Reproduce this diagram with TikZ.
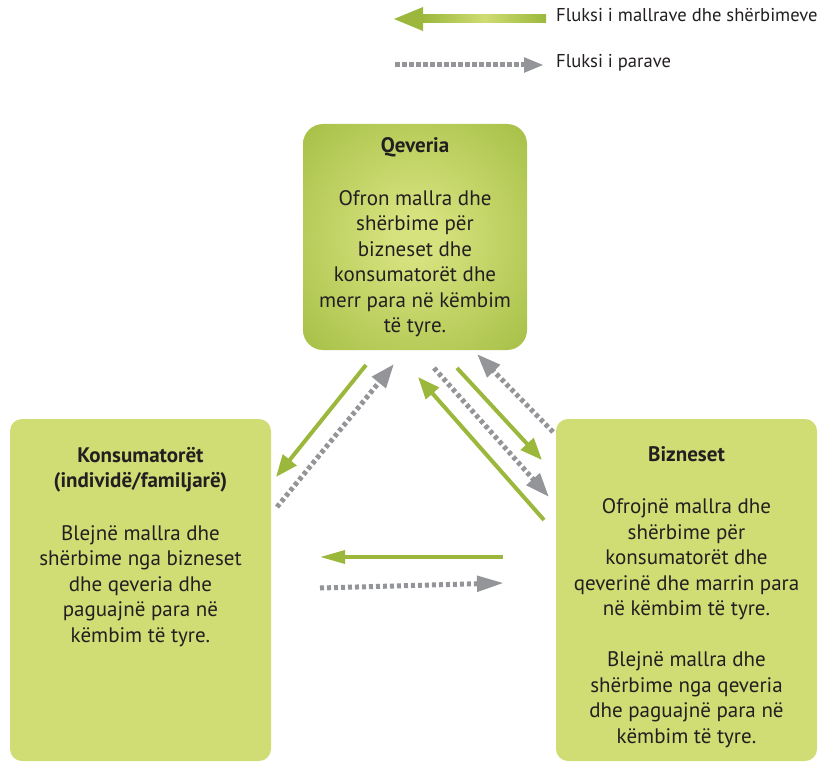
\documentclass[tikz,border=0pt]{standalone}
\usepackage{fontspec}
\setmainfont{PT Sans}
\usetikzlibrary{arrows.meta}
\definecolor{boxgreen}{HTML}{D0DC74}
\definecolor{qdark}{HTML}{9CB83A}
\definecolor{qlight}{HTML}{D6E27E}
\definecolor{arrgreen}{HTML}{9BB83C}
\definecolor{arrgreenlight}{HTML}{CFDC72}
\definecolor{arrgray}{HTML}{939598}
\definecolor{txt}{HTML}{231F20}
\pgfdeclareradialshading{qevshade}{\pgfpoint{0bp}{0bp}}{color(0bp)=(qlight); color(5bp)=(qlight); color(42bp)=(qdark); color(75bp)=(qdark)}
\newcommand{\diagfont}{\fontsize{21}{25.5}\selectfont}
\tikzset{
  sidebox/.style={fill=boxgreen, rounded corners=12pt, minimum width=261pt, minimum height=342pt, inner sep=0pt},
  qbox/.style={shade, shading=qevshade, rounded corners=20pt, minimum width=224pt, minimum height=226pt, inner sep=0pt},
  boxtext/.style={anchor=north, align=center, font=\diagfont, text=txt, inner sep=0pt},
  goods/.style={draw=arrgreen, line width=4pt, -{Triangle[length=22pt,width=17pt]}},
  money/.style={draw=arrgray, line width=5pt, dash pattern=on 4pt off 3pt, -{Triangle[length=24pt,width=17pt]}},
  goodsh/.style={draw=arrgreen, line width=3.5pt, -{Triangle[length=25pt,width=13pt]}},
  moneyh/.style={draw=arrgray, line width=5pt, dash pattern=on 4pt off 3pt, -{Triangle[length=27pt,width=15pt]}},
  legtext/.style={anchor=base west, font=\fontsize{18.6}{21}\selectfont, text=txt, inner sep=0pt}
}
\begin{document}
\begin{tikzpicture}[x=1pt,y=-1pt]
\useasboundingbox (0,0) rectangle (825,762);

% legend
\coordinate (lg1) at (394,19);
\coordinate (lg2) at (423,19);
\coordinate (lg3) at (546,19);
\shade[left color=arrgreen, right color=arrgreen, middle color=arrgreenlight] (lg2) ++(0,-4) rectangle ([yshift=-4pt]lg3);
\fill[arrgreen] (lg1) -- ([yshift=-12pt]lg2) -- ([yshift=12pt]lg2) -- cycle;
\node[legtext] (leg1) at (556,22) {Fluksi i mallrave dhe shërbimeve};
\coordinate (lm1) at (395,65);
\coordinate (lm2) at (544,65);
\draw[draw=arrgray, line width=5pt, dash pattern=on 5pt off 2pt, -{Triangle[length=20pt,width=14pt]}] (lm1) -- (lm2);
\node[legtext] (leg2) at (556,68) {Fluksi i parave};

% boxes
\node[qbox] (qev) at (415,237) {};
\node[sidebox] (kon) at (140.5,590) {};
\node[sidebox] (biz) at (686.5,590) {};

\node[boxtext] (qevt) at (415,137.5) {\textbf{Qeveria}\\[27pt]Ofron mallra dhe\\shërbime për\\bizneset dhe\\konsumatorët dhe\\merr para në këmbim\\të tyre.};
\node[boxtext] (kont) at (140.5,447) {\textbf{Konsumatorët}\\\textbf{(individë/familjarë)}\\[27pt]Blejnë mallra dhe\\shërbime nga bizneset\\dhe qeveria dhe\\paguajnë para në\\këmbim të tyre.};
\node[boxtext] (bizt) at (686.5,446) {\textbf{Bizneset}\\[27pt]Ofrojnë mallra dhe\\shërbime për\\konsumatorët dhe\\qeverinë dhe marrin para\\në këmbim të tyre.\\[25.5pt]Blejnë mallra dhe\\shërbime nga qeveria\\dhe paguajnë para në\\këmbim të tyre.};

% arrow end points
\coordinate (a1s) at (366,365);
\coordinate (a1e) at (276,477);
\coordinate (a2s) at (277,507);
\coordinate (a2e) at (394,364);
\coordinate (a3s) at (544,520);
\coordinate (a3e) at (418,377);
\coordinate (a4s) at (434,368);
\coordinate (a4e) at (549,497);
\coordinate (a5s) at (457,368);
\coordinate (a5e) at (542,460);
\coordinate (a6s) at (553,432);
\coordinate (a6e) at (477,354);
\coordinate (a7s) at (503,557);
\coordinate (a7e) at (320,557);
\coordinate (a8s) at (320,588);
\coordinate (a8e) at (504,583);

\draw[goods] (a1s) -- (a1e);
\draw[money] (a2s) -- (a2e);
\draw[goods] (a3s) -- (a3e);
\draw[money] (a4s) -- (a4e);
\draw[goods] (a5s) -- (a5e);
\draw[money] (a6s) -- (a6e);
\draw[goodsh] (a7s) -- (a7e);
\draw[moneyh] (a8s) -- (a8e);
\end{tikzpicture}
\end{document}
